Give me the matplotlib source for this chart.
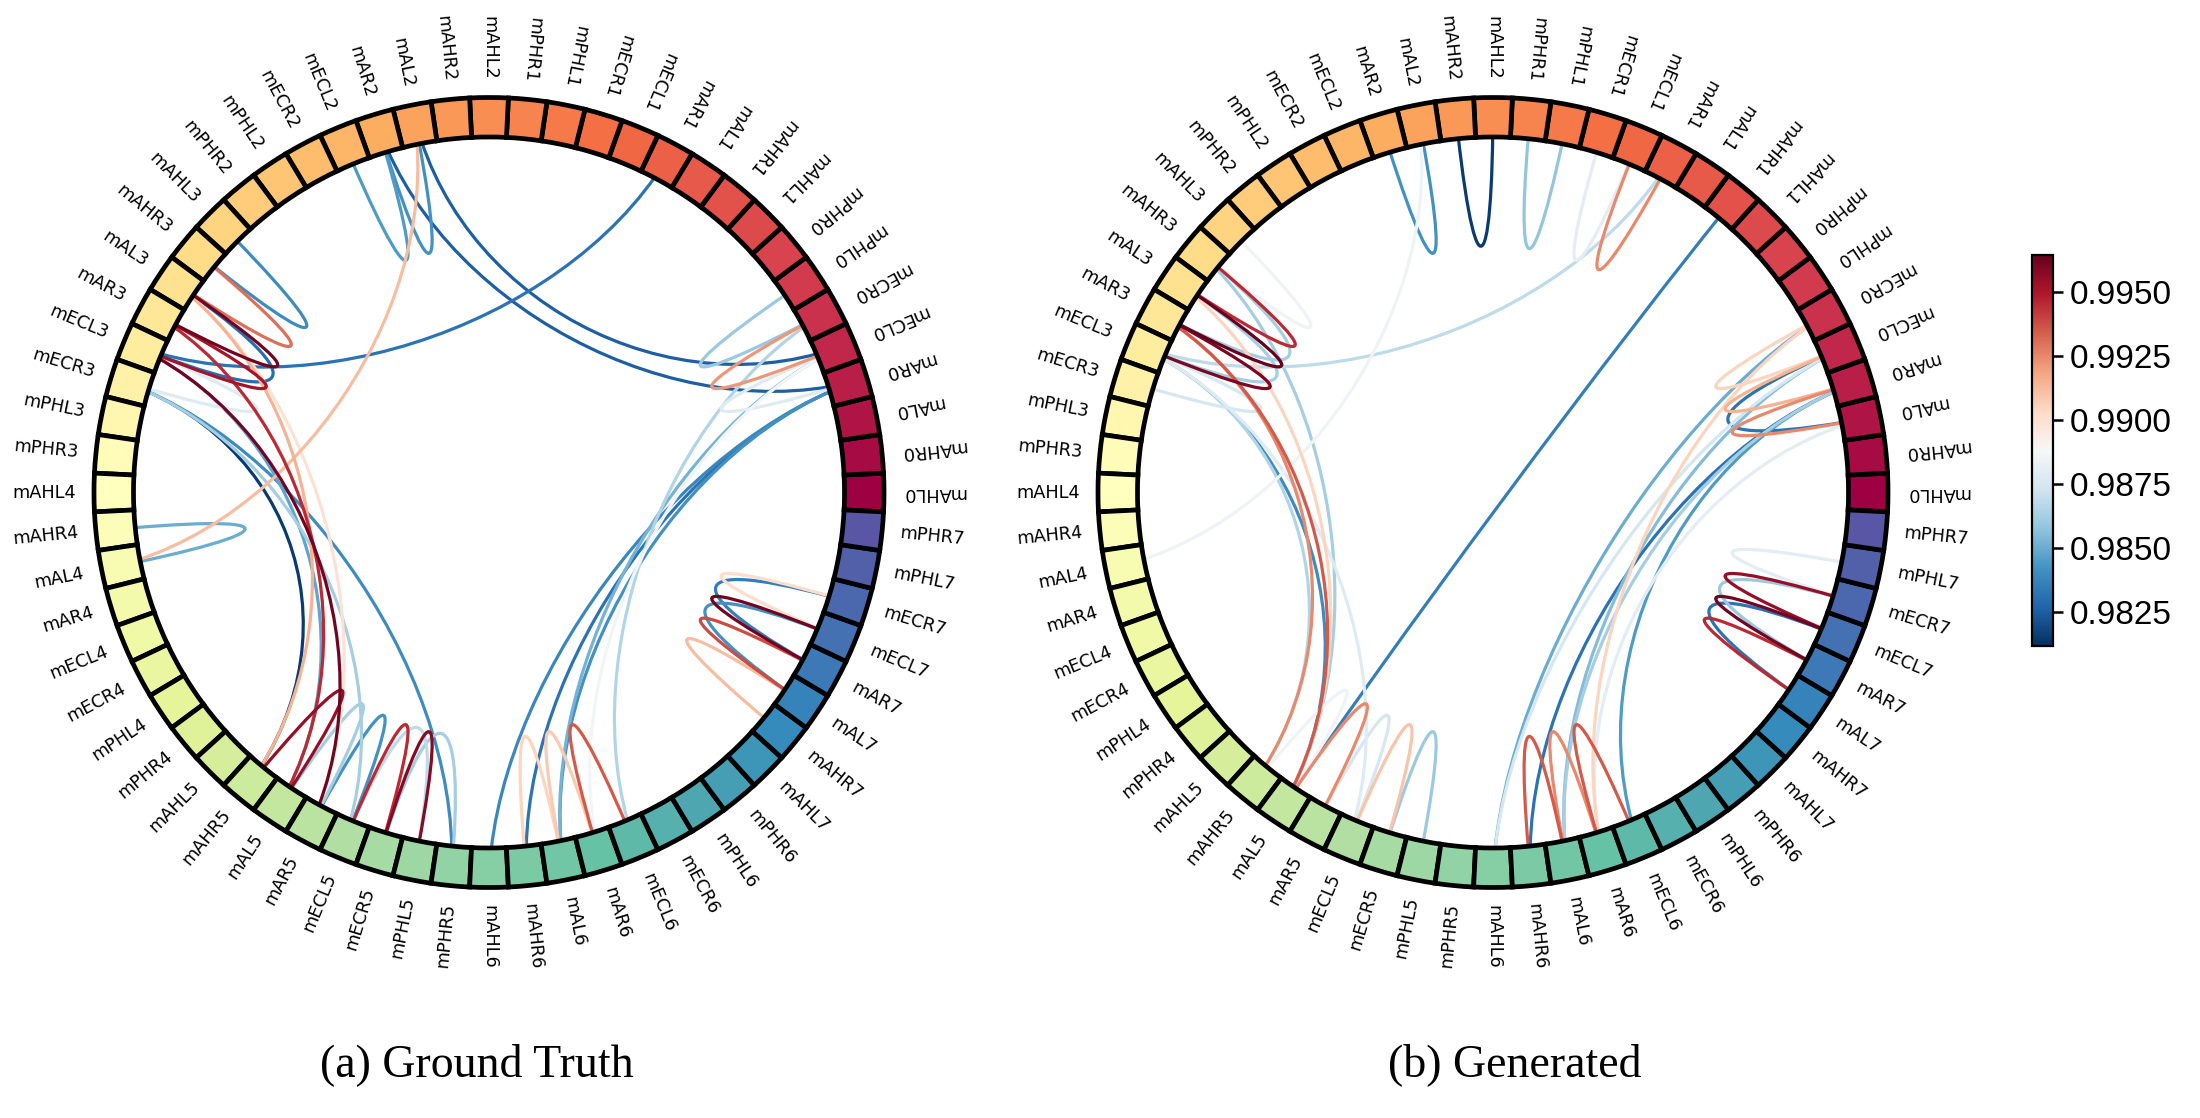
import numpy as np
import matplotlib
matplotlib.use("Agg")
import matplotlib.pyplot as plt
from matplotlib.path import Path
from matplotlib.patches import PathPatch
from matplotlib.colors import Normalize
from matplotlib.cm import ScalarMappable

groups = list(range(8))
regions = ["mAHL", "mAHR", "mAL", "mAR", "mECL", "mECR", "mPHL", "mPHR"]
node_names = [f"{r}{g}" for g in groups for r in regions]

gt_from = [11, 4, 3, 19, 18, 18, 33, 24, 25, 26, 27, 26, 28, 5, 4, 3,
           28, 27, 26, 26, 29, 29, 28, 29, 41, 42, 43, 44, 45, 44, 45,
           3, 3, 3, 4, 5, 4, 49, 50, 51, 60, 59, 59, 58, 58, 57]
gt_to = [28, 18, 19, 20, 19, 34, 34, 25, 26, 27, 28, 28, 29, 6, 5, 4,
         43, 42, 41, 43, 41, 47, 42, 44, 42, 43, 44, 45, 46, 46, 47,
         48, 49, 50, 50, 52, 51, 50, 51, 52, 61, 61, 60, 60, 59, 58]
gt_values = [.9832, .9825, .9825, .9845, .9842, .9912, .9850, .9840, .9930, .9962, .9952, .9830, .9878, .9860, .9922, .9878,
             .9962, .9945, .9915, .9900, .9815, .9840, .9848, .9862, .9955, .9862, .9842, .9945, .9958, .9868, .9862,
             .9838, .9832, .9842, .9852, .9865, .9886, .9905, .9908, .9935, .9902, .9835, .9962, .9842, .9938, .9912]

gen_from = [18, 16, 14, 12, 11, 11, 18, 9, 24, 25, 25, 26, 26, 27, 28,
            28, 28, 28, 27, 27, 26, 25, 41, 42, 43, 44, 45,
            4, 3, 2, 2, 5, 4, 3, 3, 4, 3, 2, 5,
            49, 50, 51, 61, 60, 59, 59, 58, 58]
gen_to = [19, 17, 15, 13, 12, 28, 34, 42, 25, 26, 27, 27, 28, 28, 29,
          41, 42, 44, 41, 42, 42, 42, 42, 43, 44, 45, 46,
          5, 4, 4, 3, 48, 48, 49, 50, 50, 52, 51, 51,
          50, 51, 52, 62, 61, 61, 60, 60, 59]
gen_values = [.9842, .9815, .9858, .9880, .9925, .9868, .9885, .9835, .9885, .9945, .9862, .9965, .9862, .9960, .9875,
              .9865, .9840, .9878, .9925, .9935, .9905, .9862, .9885, .9925, .9875, .9910, .9860,
              .9905, .9915, .9832, .9925, .9850, .9875, .9832, .9862, .9855, .9845, .9880, .9905,
              .9935, .9925, .9935, .9880, .9955, .9860, .9962, .9832, .9945]

cbar_ticks = [0.9825, 0.9850, 0.9875, 0.9900, 0.9925, 0.9950]
vmin, vmax = 0.98117, 0.99646
titles = ["(a) Ground Truth", "(b) Generated"]

W, H = 2200, 1118
fig = plt.figure(figsize=(W / 100, H / 100), dpi=100, facecolor="white")
cmap = plt.get_cmap("RdBu_r")
norm = Normalize(vmin, vmax)
node_cmap = plt.get_cmap("Spectral")
n = len(node_names)
angles = np.arange(n) * 2 * np.pi / n
node_colors = [node_cmap(i / n) for i in range(n)]


def circle(cx, cy, R, froms, tos, values):
    ax = fig.add_axes([(cx - R) / W, 1 - (cy + R) / H, 2 * R / W, 2 * R / H], projection="polar")
    ax.set_ylim(0, 10)
    ax.set_xticks([])
    ax.set_yticks([])
    ax.grid(False)
    ax.spines["polar"].set_visible(False)
    ax.patch.set_visible(False)
    bars = ax.bar(angles, np.ones(n), width=2 * np.pi / n, bottom=9,
                  color=node_colors, edgecolor="black", linewidth=3.4, zorder=3)
    for b in bars:
        b.set_clip_on(False)
    order = np.argsort(values)
    for k in order:
        t0, t1 = angles[froms[k]], angles[tos[k]]
        path = Path([(t0, 10), (t0, 5), (t1, 5), (t1, 10)],
                    [Path.MOVETO, Path.CURVE4, Path.CURVE4, Path.CURVE4])
        ax.add_patch(PathPatch(path, fill=False, edgecolor=cmap(norm(values[k])),
                               linewidth=2.3, zorder=2))
    for name, a in zip(node_names, angles):
        deg = np.degrees(a)
        if deg >= 270:
            ha = "left"
        else:
            deg += 180
            ha = "right"
        ax.text(a, 10.45, name, fontsize=12.8, rotation=deg, rotation_mode="anchor",
                ha=ha, va="center", color="black", clip_on=False, family="DejaVu Sans")


circle(489, 492.5, 395, gt_from, gt_to, gt_values)
circle(1493, 492.5, 395, gen_from, gen_to, gen_values)

cax = fig.add_axes([2032 / W, 1 - 646 / H, 21 / W, (646 - 255) / H])
cb = fig.colorbar(ScalarMappable(norm=norm, cmap=cmap), cax=cax)
cb.set_ticks(cbar_ticks)
cb.set_ticklabels([f"{t:.4f}" for t in cbar_ticks])
cb.ax.tick_params(labelsize=24, length=7, width=1.8, pad=5)
for lab in cb.ax.get_yticklabels():
    lab.set_family("Liberation Sans")
cb.outline.set_linewidth(1.6)

fig.text(477 / W, 1 - 1065 / H, titles[0], fontsize=33, family="Liberation Serif", ha="center", va="center")
fig.text(1515 / W, 1 - 1065 / H, titles[1], fontsize=33, family="Liberation Serif", ha="center", va="center")

fig.savefig("out.png", dpi=100, facecolor="white")
